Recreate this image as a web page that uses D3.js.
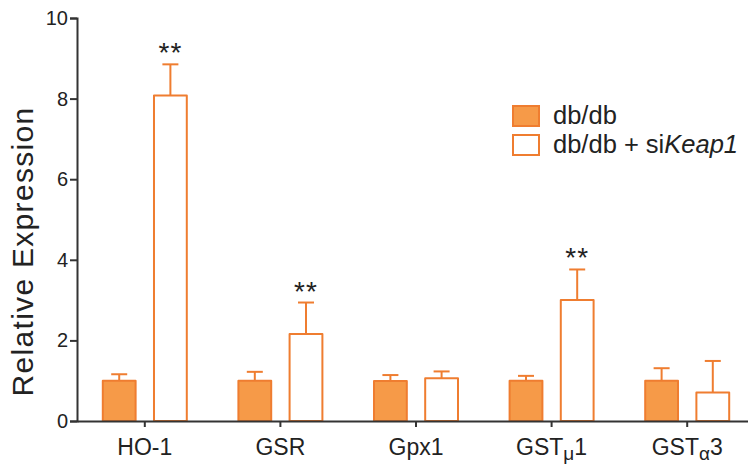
<!DOCTYPE html>
<html>
<head>
<meta charset="utf-8">
<script src="https://cdn.jsdelivr.net/npm/d3@7"></script>
<style>
  body { margin: 0; background: #fff; }
  text { font-family: "Liberation Sans", Arial, Helvetica, sans-serif; fill: #222; }
</style>
</head>
<body>
<div id="chart"></div>
<script>
// genes: [main text, subscript, tail]
const genes = ["HO-1", "GSR", "Gpx1", "GSTmu1", "GSTa3"];
const geneLabels = [["HO-1", "", ""], ["GSR", "", ""], ["Gpx1", "", ""], ["GST", "μ", "1"], ["GST", "α", "3"]];
const series = ["db/db", "db/db + siKeap1"];
const dbMean = [1.0, 1.0, 0.99, 1.0, 1.0];
const dbErr = [0.16, 0.22, 0.15, 0.12, 0.31];
const siMean = [8.08, 2.16, 1.06, 3.0, 0.71];
const siErr = [0.77, 0.78, 0.17, 0.76, 0.78];
const signif = ["**", "**", "", "**", ""];
const yTicks = [0, 2, 4, 6, 8, 10];

const W = 748, H = 466;
const margin = {top: 18, right: 0, bottom: 45, left: 77};
const orangeFill = "#F69A48", orangeLine = "#EF7D30", axisCol = "#333";

const svg = d3.select("#chart").append("svg")
  .attr("width", W).attr("height", H);

const x = d3.scaleBand().domain(genes).range([margin.left, 755]);
const y = d3.scaleLinear().domain([0, 10]).range([H - margin.bottom, margin.top]);
const sub = d3.scaleBand().domain(series).range([-43, 43]).paddingInner(0.32);

const rows = genes.map((g, i) => ({
  gene: g,
  vals: [
    {s: series[0], m: dbMean[i], e: dbErr[i]},
    {s: series[1], m: siMean[i], e: siErr[i]}
  ],
  sig: signif[i]
}));

// bars
const groups = svg.append("g").selectAll("g").data(rows).enter().append("g")
  .attr("transform", d => `translate(${x(d.gene) + x.bandwidth() / 2},0)`);

const bars = groups.selectAll("g").data(d => d.vals).enter().append("g");

// error bars first (behind bar outline)
bars.append("line")
  .attr("x1", d => sub(d.s) + sub.bandwidth() / 2)
  .attr("x2", d => sub(d.s) + sub.bandwidth() / 2)
  .attr("y1", d => y(d.m))
  .attr("y2", d => y(d.m + d.e))
  .attr("stroke", orangeLine).attr("stroke-width", 2);

bars.append("line")
  .attr("x1", d => sub(d.s) + sub.bandwidth() / 2 - 8)
  .attr("x2", d => sub(d.s) + sub.bandwidth() / 2 + 8)
  .attr("y1", d => y(d.m + d.e))
  .attr("y2", d => y(d.m + d.e))
  .attr("stroke", orangeLine).attr("stroke-width", 2);

bars.append("rect")
  .attr("x", d => sub(d.s) + 1)
  .attr("width", sub.bandwidth() - 2)
  .attr("y", d => y(d.m))
  .attr("height", d => y(0) - y(d.m))
  .attr("fill", (d, i) => i === 0 ? orangeFill : "#fff")
  .attr("stroke", orangeLine)
  .attr("stroke-width", 2)
  .attr("stroke-linejoin", "round");

// significance stars
groups.append("text")
  .attr("x", sub(series[1]) + sub.bandwidth() / 2)
  .attr("y", d => y(d.vals[1].m + d.vals[1].e) - 2)
  .attr("text-anchor", "middle")
  .attr("font-size", "28px")
  .attr("letter-spacing", "1px")
  .text(d => d.sig);

// y axis
const yAxis = svg.append("g")
  .attr("transform", `translate(${margin.left},0)`)
  .call(d3.axisLeft(y).tickValues(yTicks).tickSize(7).tickPadding(2).tickFormat(d3.format("d")));
yAxis.select(".domain").attr("stroke", axisCol).attr("stroke-width", 2);
yAxis.selectAll(".tick line").attr("stroke", axisCol).attr("stroke-width", 2);
yAxis.selectAll(".tick text")
  .attr("font-size", "20px").attr("fill", "#222");
yAxis.attr("font-family", null);

// x axis
const xAxis = svg.append("g")
  .attr("transform", `translate(0,${y(0)})`)
  .call(d3.axisBottom(x).tickSize(6).tickSizeOuter(0).tickFormat(() => ""));
xAxis.select(".domain").attr("stroke", axisCol).attr("stroke-width", 2);
xAxis.selectAll(".tick line").attr("stroke", axisCol).attr("stroke-width", 2);

const xl = svg.append("g").selectAll("text").data(genes).enter().append("text")
  .attr("x", d => x(d) + x.bandwidth() / 2)
  .attr("y", y(0) + 34)
  .attr("text-anchor", "middle")
  .attr("font-size", "23px");
xl.each(function(d, i) {
  const t = d3.select(this), lab = geneLabels[i];
  t.append("tspan").text(lab[0]);
  if (lab[1]) {
    t.append("tspan").attr("font-size", "19px").attr("dy", 5).text(lab[1]);
    t.append("tspan").attr("dy", -5).text(lab[2]);
  }
});

// y label
svg.append("text")
  .attr("transform", `translate(33,${(y(0) + y(10)) / 2 + 32}) rotate(-90)`)
  .attr("text-anchor", "middle")
  .attr("font-size", "30px")
  .attr("letter-spacing", "1.3px")
  .text("Relative Expression");

// legend
const legend = svg.append("g").attr("transform", "translate(513,106)");
const li = legend.selectAll("g").data(series).enter().append("g")
  .attr("transform", (d, i) => `translate(0,${i * 29})`);
li.append("rect")
  .attr("width", 26).attr("height", 20)
  .attr("fill", (d, i) => i === 0 ? orangeFill : "#fff")
  .attr("stroke", orangeLine).attr("stroke-width", 2);
li.append("text")
  .attr("x", 40).attr("y", 18)
  .attr("font-size", "25.5px")
  .each(function(d, i) {
    const t = d3.select(this);
    if (i === 0) { t.text(d); return; }
    t.append("tspan").text("db/db + si");
    t.append("tspan").attr("font-style", "italic").text("Keap1");
  });
</script>
</body>
</html>
